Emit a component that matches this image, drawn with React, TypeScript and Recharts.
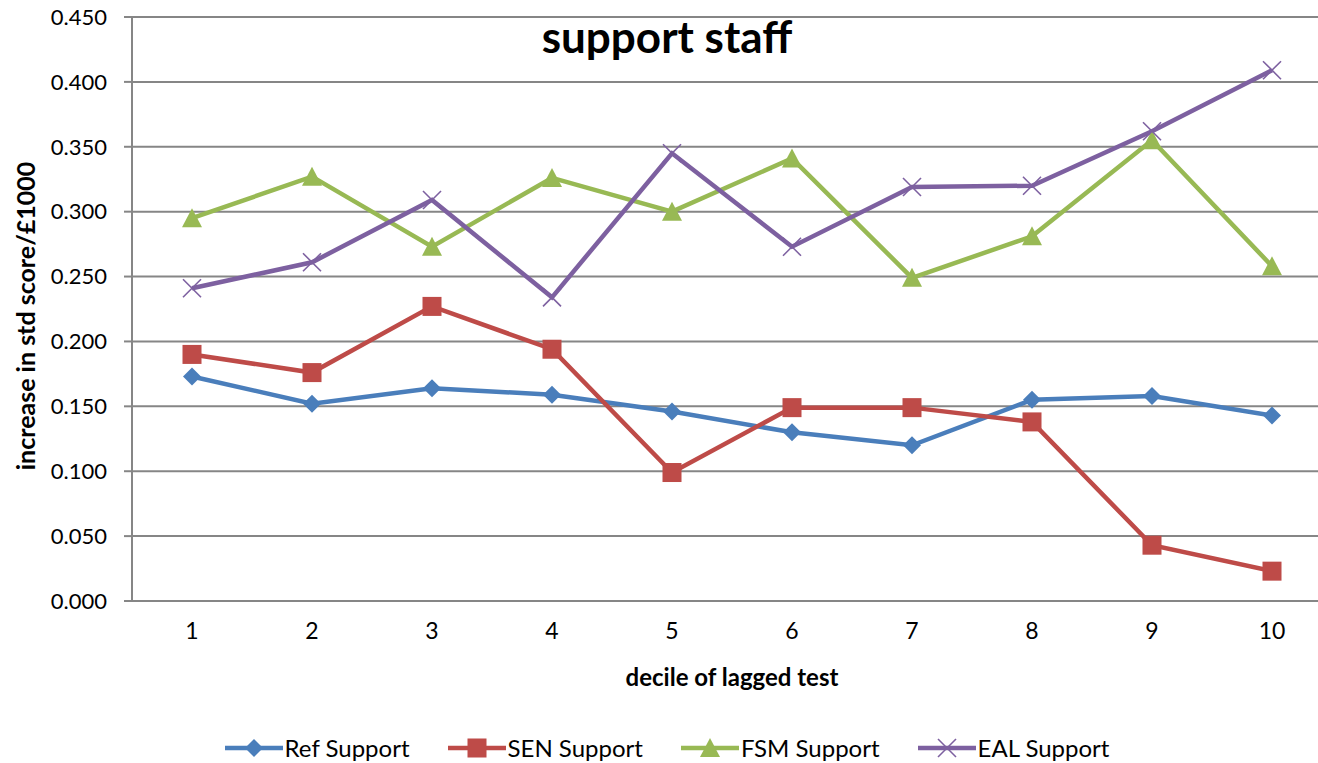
import { LineChart, Line, XAxis, YAxis, CartesianGrid, Legend, Label } from "recharts";

const deciles = [1, 2, 3, 4, 5, 6, 7, 8, 9, 10];
const refSupport = [0.173, 0.152, 0.164, 0.159, 0.146, 0.130, 0.120, 0.155, 0.158, 0.143];
const senSupport = [0.190, 0.176, 0.227, 0.194, 0.099, 0.149, 0.149, 0.138, 0.043, 0.023];
const fsmSupport = [0.295, 0.327, 0.273, 0.326, 0.300, 0.341, 0.249, 0.281, 0.355, 0.258];
const ealSupport = [0.241, 0.261, 0.309, 0.234, 0.345, 0.273, 0.319, 0.320, 0.362, 0.409];
const yTicks = [0, 0.05, 0.1, 0.15, 0.2, 0.25, 0.3, 0.35, 0.4, 0.45];
const edgeTicks = [0.5, 1.5, 2.5, 3.5, 4.5, 5.5, 6.5, 7.5, 8.5, 9.5, 10.5];

const data = deciles.map((d, i) => ({
  decile: d,
  ref: refSupport[i],
  sen: senSupport[i],
  fsm: fsmSupport[i],
  eal: ealSupport[i],
}));

const FONT = "Lato, 'Open Sans', sans-serif";
const AXIS_GREY = "#868686";

const COLORS = {
  ref: "#4a7ebb",
  sen: "#be4b48",
  fsm: "#98b954",
  eal: "#7d60a0",
};

type Shape = "diamond" | "square" | "triangle" | "cross";

const Marker = ({ cx, cy, shape, color }: { cx: number; cy: number; shape: Shape; color: string }) => {
  if (cx == null || cy == null) return null;
  if (shape === "diamond") {
    const r = 9;
    return <polygon points={`${cx},${cy - r} ${cx + r},${cy} ${cx},${cy + r} ${cx - r},${cy}`} fill={color} />;
  }
  if (shape === "square") {
    const r = 9.5;
    return <rect x={cx - r} y={cy - r} width={r * 2} height={r * 2} fill={color} />;
  }
  if (shape === "triangle") {
    return <polygon points={`${cx},${cy - 10} ${cx + 10},${cy + 9} ${cx - 10},${cy + 9}`} fill={color} />;
  }
  const r = 9;
  return (
    <g stroke={color} strokeWidth={1.6}>
      <line x1={cx - r} y1={cy - r} x2={cx + r} y2={cy + r} />
      <line x1={cx - r} y1={cy + r} x2={cx + r} y2={cy - r} />
    </g>
  );
};

const makeDot = (shape: Shape, color: string) => (props: any) => (
  <Marker key={`${shape}-${props.index}`} cx={props.cx} cy={props.cy} shape={shape} color={color} />
);

const legendItems: { label: string; shape: Shape; color: string }[] = [
  { label: "Ref Support", shape: "diamond", color: COLORS.ref },
  { label: "SEN Support", shape: "square", color: COLORS.sen },
  { label: "FSM Support", shape: "triangle", color: COLORS.fsm },
  { label: "EAL Support", shape: "cross", color: COLORS.eal },
];

const ChartLegend = () => (
  <div
    style={{
      height: 72,
      display: "flex",
      justifyContent: "center",
      alignItems: "flex-end",
      paddingBottom: 1,
      boxSizing: "border-box",
      gap: 36,
      fontFamily: FONT,
      fontSize: 24,
      color: "#000",
    }}
  >
    {legendItems.map((item) => (
      <div key={item.label} style={{ display: "flex", alignItems: "center" }}>
        <svg width={62} height={24}>
          <line x1={2} y1={12} x2={60} y2={12} stroke={item.color} strokeWidth={4.5} />
          <Marker cx={31} cy={12} shape={item.shape} color={item.color} />
        </svg>
        <span>{item.label}</span>
      </div>
    ))}
  </div>
);

export default function App() {
  return (
    <div style={{ position: "absolute", left: 0, top: 0, width: 1318, height: 763, overflow: "hidden", background: "#fff" }}>
      <div
        style={{
          position: "absolute",
          left: 0,
          top: 14,
          width: 1334,
          textAlign: "center",
          fontFamily: FONT,
          fontWeight: 700,
          fontSize: 44,
          lineHeight: "44px",
          zIndex: 2,
          pointerEvents: "none",
        }}
      >
        support staff
      </div>
      <LineChart width={1340} height={763} data={data} margin={{ top: 17, right: 8, left: 0, bottom: 0 }}>
        <CartesianGrid horizontal vertical={false} stroke={AXIS_GREY} strokeWidth={2} />
        <XAxis
          xAxisId="edges"
          dataKey="decile"
          type="number"
          domain={[0.5, 10.5]}
          ticks={edgeTicks}
          tick={false}
          tickSize={8}
          height={0}
          stroke={AXIS_GREY}
          strokeWidth={2}
          allowDataOverflow
        />
        <XAxis
          dataKey="decile"
          type="number"
          domain={[0.5, 10.5]}
          ticks={deciles}
          axisLine={false}
          tickLine={false}
          tickSize={0}
          tickMargin={22}
          height={90}
          tick={{ fill: "#000", fontSize: 23, fontFamily: FONT }}
          allowDataOverflow
        >
          <Label
            content={({ viewBox }: any) => (
              <text
                x={viewBox.x + viewBox.width / 2}
                y={viewBox.y + 75}
                textAnchor="middle"
                dominantBaseline="central"
                style={{ fontFamily: FONT, fontWeight: 700, fontSize: 24, fill: "#000" }}
              >
                decile of lagged test
              </text>
            )}
          />
        </XAxis>
        <YAxis
          width={132}
          domain={[0, 0.45]}
          ticks={yTicks}
          tickFormatter={(v: number) => v.toFixed(3)}
          tickSize={8}
          tickMargin={17}
          stroke={AXIS_GREY}
          strokeWidth={2}
          tick={{ fill: "#000", fontSize: 22, fontFamily: FONT }}
        >
          <Label
            content={({ viewBox }: any) => {
              const cy = viewBox.y + viewBox.height / 2 + 7;
              return (
                <text
                  x={25}
                  y={cy}
                  transform={`rotate(-90, 25, ${cy})`}
                  textAnchor="middle"
                  dominantBaseline="central"
                  style={{ fontFamily: FONT, fontWeight: 700, fontSize: 25, fill: "#000" }}
                >
                  increase in std score/£1000
                </text>
              );
            }}
          />
        </YAxis>
        <Legend verticalAlign="bottom" content={() => <ChartLegend />} />
        <Line dataKey="ref" name="Ref Support" stroke={COLORS.ref} strokeWidth={4.5} dot={makeDot("diamond", COLORS.ref)} activeDot={false} isAnimationActive={false} />
        <Line dataKey="sen" name="SEN Support" stroke={COLORS.sen} strokeWidth={4.5} dot={makeDot("square", COLORS.sen)} activeDot={false} isAnimationActive={false} />
        <Line dataKey="fsm" name="FSM Support" stroke={COLORS.fsm} strokeWidth={4.5} dot={makeDot("triangle", COLORS.fsm)} activeDot={false} isAnimationActive={false} />
        <Line dataKey="eal" name="EAL Support" stroke={COLORS.eal} strokeWidth={4.5} dot={makeDot("cross", COLORS.eal)} activeDot={false} isAnimationActive={false} />
      </LineChart>
    </div>
  );
}
